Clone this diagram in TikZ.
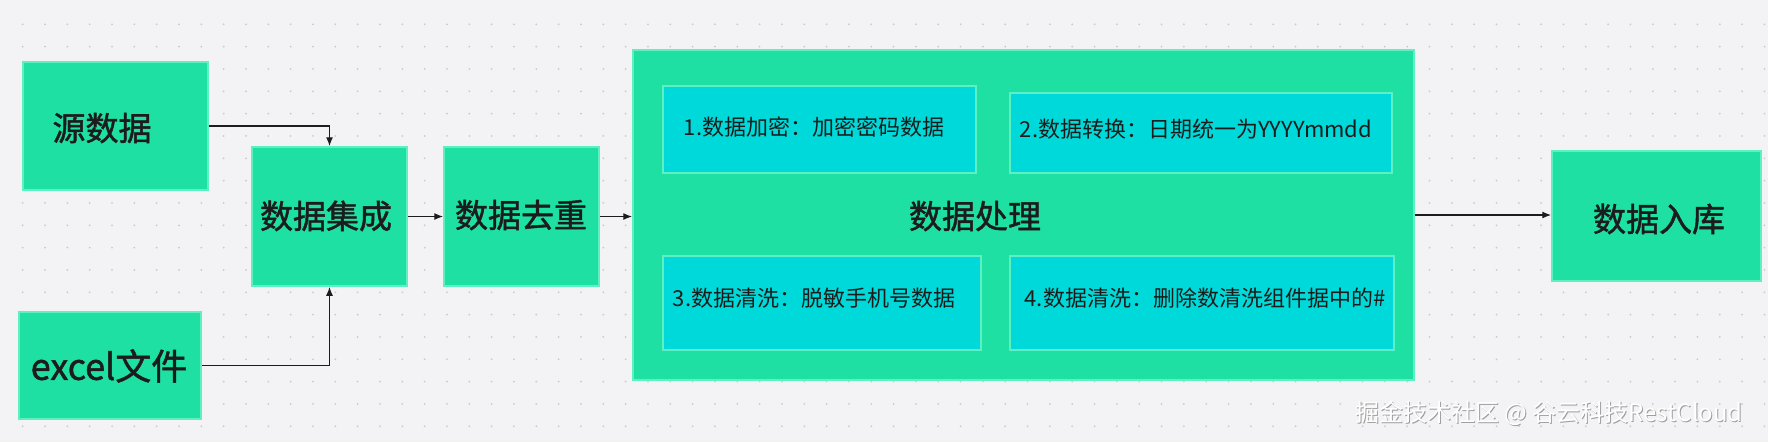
\documentclass[tikz,border=0pt]{standalone}
\usepackage{fontspec}
\setmainfont{Noto Sans CJK SC}
\newfontfamily\boldcjk[FakeBold=1.4]{Noto Sans CJK SC}
\usetikzlibrary{arrows.meta}
\definecolor{bgc}{HTML}{F3F3F5}
\definecolor{dotc}{HTML}{CACACF}
\definecolor{boxgreen}{HTML}{1DE0A2}
\definecolor{boxline}{HTML}{5EF0C0}
\definecolor{subcyan}{HTML}{00D9D9}
\definecolor{subline}{HTML}{5EF0C4}
\definecolor{ink}{HTML}{1C1C1C}
\begin{document}
\begin{tikzpicture}[x=1pt,y=-1pt,
  box/.style={draw=boxline, line width=1.5pt, fill=boxgreen, inner sep=0pt},
  sub/.style={draw=subline, line width=1.2pt, fill=subcyan, inner sep=0pt},
  big/.style={font=\boldcjk\fontsize{33}{40}\selectfont, text=ink, inner sep=0pt},
  small/.style={font=\fontsize{22}{26}\selectfont, text=ink, inner sep=0pt},
  wm/.style={font=\fontsize{24}{28}\selectfont, inner sep=0pt},
  conn/.style={draw=ink, line width=1.3pt, -{Latex[length=9pt,width=7pt]}}]
\fill[bgc] (0,0) rectangle (1768,442);
\useasboundingbox (0,0) rectangle (1768,442);
\foreach \i in {0,...,78}{
  \foreach \j in {0,...,18}{
    \fill[dotc] ({22.7+22.33*\i},{24.3+22.33*\j}) circle (1pt);
  }
}
% boxes
\node[box, minimum width=185pt, minimum height=128pt] (src) at (115.5,126) {};
\node[box, minimum width=182pt, minimum height=107pt] (xls) at (110,365.5) {};
\node[box, minimum width=155pt, minimum height=139pt] (int) at (329.5,216.5) {};
\node[box, minimum width=155pt, minimum height=139pt] (dedup) at (521.5,216.5) {};
\node[box, minimum width=781pt, minimum height=330pt] (proc) at (1023.5,215) {};
\node[sub, minimum width=313pt, minimum height=87pt] (s1) at (819.5,129.5) {};
\node[sub, minimum width=382pt, minimum height=80pt] (s2) at (1201,133) {};
\node[sub, minimum width=318pt, minimum height=94pt] (s3) at (822,303) {};
\node[sub, minimum width=384pt, minimum height=94pt] (s4) at (1202,303) {};
\node[box, minimum width=209pt, minimum height=130pt] (store) at (1656.5,216) {};
% labels
\node[big] (src-t) at (102,128) {源数据};
\node[big, font=\boldcjk\fontsize{36}{42}\selectfont] (xls-t) at (109,366) {excel文件};
\node[big] (int-t) at (326,216) {数据集成};
\node[big] (dedup-t) at (521,215) {数据去重};
\node[big] (proc-t) at (975,216) {数据处理};
\node[big] (store-t) at (1659,219) {数据入库};
\node[small] (s1-t) at (814,127) {1.数据加密：加密密码数据};
\node[small] (s2-t) at (1196,129) {2.数据转换：日期统一为YYYYmmdd};
\node[small] (s3-t) at (814,298) {3.数据清洗：脱敏手机号数据};
\node[small] (s4-t) at (1205,298) {4.数据清洗：删除数清洗组件据中的\#};
% connectors
\draw[conn] (src.east) -| (int.north);
\draw[conn] (xls.east) -| (int.south);
\draw[conn] (int.east) -- (dedup.west);
\draw[conn] (dedup.east) -- (dedup.east -| proc.west);
\draw[conn] (proc.east) -- (proc.east -| store.west);
% watermark
\node[wm, text=gray!75] (wm-s) at (1550,414.2) {掘金技术社区 @ 谷云科技RestCloud};
\node[wm, text=white] (wm) at (1549,413) {掘金技术社区 @ 谷云科技RestCloud};
\end{tikzpicture}
\end{document}
